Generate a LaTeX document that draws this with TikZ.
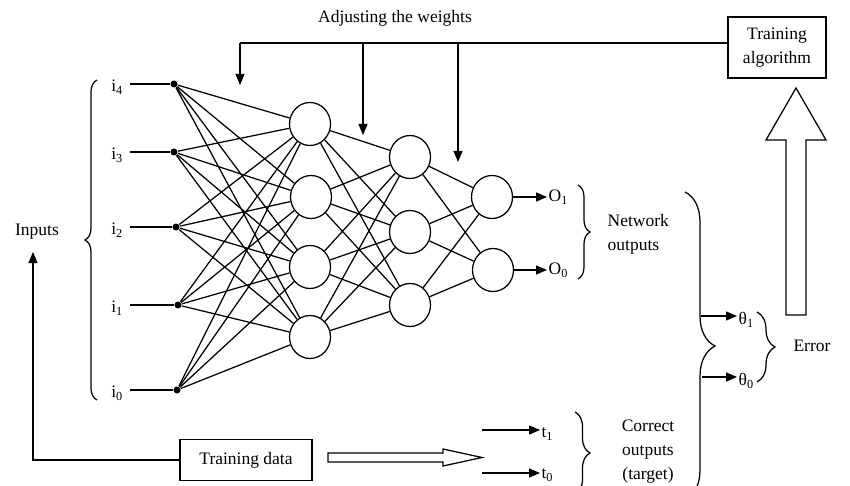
\documentclass[tikz,border=0pt]{standalone}
\usepackage{fontspec}
\setmainfont{Liberation Serif}
\usetikzlibrary{arrows.meta,shapes.geometric,decorations.pathreplacing}
\begin{document}
\begin{tikzpicture}[x=1pt,y=-1pt,line width=1.25pt,
  neuron/.style={draw,ellipse,minimum width=41pt,minimum height=43pt,inner sep=0pt},
  dotnode/.style={circle,fill,inner sep=0pt,minimum size=7pt},
  lbl/.style={inner sep=1pt,font=\fontsize{17.5}{24}\selectfont},
  boxnode/.style={draw,inner sep=0pt,font=\fontsize{17.5}{24}\selectfont,align=center},
  tri/.style={-{Triangle[length=11pt,width=9pt]}},
  brc/.style={decorate,decoration={brace,amplitude=#1}},
  hollow/.style={draw,fill=white,line width=1.25pt}
]
\useasboundingbox (0,0) rectangle (850,486);
\clip (0,0) rectangle (850,486);

% input dots and labels
\foreach \k/\x/\y in {4/174/84,3/174/152,2/176/227,1/178/305,0/177/390}{
  \node[dotnode] (d\k) at (\x,\y) {};
  \coordinate (a\k) at (130,\y);
  \node[lbl] (il\k) at (117,\y+3) {i\textsubscript{\k}};
  \draw (a\k) -- (d\k);
}
% hidden layer 1
\node[neuron] (h1) at (310,124) {};
\node[neuron] (h2) at (311,197) {};
\node[neuron] (h3) at (310,267) {};
\node[neuron] (h4) at (310,337) {};
% hidden layer 2
\node[neuron] (g1) at (410,157) {};
\node[neuron] (g2) at (410,232) {};
\node[neuron] (g3) at (410,305) {};
% output layer
\node[neuron] (o1) at (492,197) {};
\node[neuron] (o0) at (493,270) {};

\foreach \i in {0,...,4}{\foreach \j in {1,...,4}{\draw (d\i) -- (h\j);}}
\foreach \i in {1,...,4}{\foreach \j in {1,...,3}{\draw (h\i) -- (g\j);}}
\foreach \i in {1,...,3}{\foreach \j in {0,1}{\draw (g\i) -- (o\j);}}

% outputs
\node[lbl,anchor=west] (O1) at (547,197) {O\textsubscript{1}};
\node[lbl,anchor=west] (O0) at (547,270) {O\textsubscript{0}};
\draw[tri] (o1) -- (O1);
\draw[tri] (o0) -- (O0);
\draw[brc=12pt] (578,185) -- (578,279);
\node[lbl,anchor=west,align=left] (netout) at (606,234) {Network\\outputs};

% inputs brace and label
\draw[brc=12pt] (97,400) -- (97,80);
\node[lbl] (inputs) at (37,232) {Inputs};

% training data
\node[boxnode,minimum width=132pt,minimum height=41pt] (td) at (246,460) {Training data};
\coordinate (tdc) at (33,460);
\coordinate (inarr) at (33,252);
\draw[tri] (td.west) -- (tdc) -- (inarr);
\path[hollow] (328,453) -- (443,453) -- (443,449) -- (482,457.5) -- (443,466) -- (443,462) -- (328,462) -- cycle;

% targets
\node[lbl,anchor=west] (t1) at (540,434) {t\textsubscript{1}};
\node[lbl,anchor=west] (t0) at (540,475) {t\textsubscript{0}};
\coordinate (t1s) at (482,430);
\coordinate (t0s) at (482,473);
\draw[tri] (t1s) -- (t1.west |- t1s);
\draw[tri] (t0s) -- (t0.west |- t0s);
\draw[brc=15pt] (575,412) -- (575,494);
\node[lbl,align=center] (corr) at (648,452) {Correct\\outputs\\(target)};

% big brace and errors
\draw[brc=30pt] (685,192) -- (685,500);
\node[lbl,anchor=west] (th1) at (737,320) {θ\textsubscript{1}};
\node[lbl,anchor=west] (th0) at (737,381) {θ\textsubscript{0}};
\coordinate (th1s) at (701,316);
\coordinate (th0s) at (702,377);
\draw[tri] (th1s) -- (th1.west |- th1s);
\draw[tri] (th0s) -- (th0.west |- th0s);
\draw[brc=18pt] (757,312) -- (757,382);
\node[lbl] (err) at (812,346) {Error};

% training algorithm and hollow up arrow
\node[boxnode,minimum width=98pt,minimum height=61pt] (ta) at (777,47.5) {Training\\algorithm};
\path[hollow] (786,315) -- (806,315) -- (806,140) -- (826,140) -- (796,88) -- (766,140) -- (786,140) -- cycle;

% adjusting weights
\node[lbl] (adj) at (395,18) {Adjusting the weights};
\coordinate (tl) at (728,43);
\coordinate (c1) at (240,43);
\coordinate (c2) at (363,43);
\coordinate (c3) at (458,43);
\coordinate (e1) at (240,85);
\coordinate (e2) at (363,135);
\coordinate (e3) at (458,162);
\draw (tl) -- (c1);
\draw[tri] (c1) -- (e1);
\draw[tri] (c2) -- (e2);
\draw[tri] (c3) -- (e3);
\end{tikzpicture}
\end{document}
